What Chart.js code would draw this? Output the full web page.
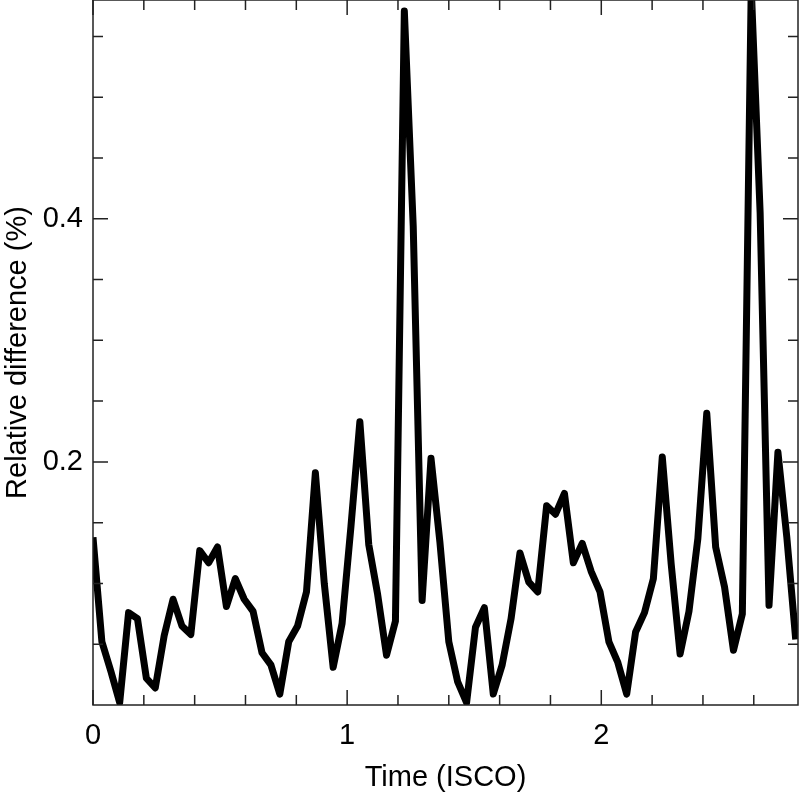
<!DOCTYPE html>
<html>
<head>
<meta charset="utf-8">
<script src="https://cdn.jsdelivr.net/npm/chart.js@4.4.1/dist/chart.umd.min.js"></script>
<style>
  html, body { margin: 0; padding: 0; background: #fff; }
  canvas { display: block; }
</style>
</head>
<body>
<canvas id="chart" width="799" height="795"></canvas>
<script>
// sample times (ISCO)
const timeIsco = [
    0.000, 0.035, 0.070, 0.105, 0.140, 0.175, 0.210, 0.245, 0.280, 0.315,
    0.350, 0.385, 0.420, 0.455, 0.490, 0.525, 0.560, 0.595, 0.630, 0.665,
    0.700, 0.735, 0.770, 0.805, 0.840, 0.875, 0.910, 0.945, 0.980, 1.015,
    1.050, 1.085, 1.120, 1.155, 1.190, 1.225, 1.260, 1.295, 1.330, 1.365,
    1.400, 1.435, 1.470, 1.505, 1.540, 1.575, 1.610, 1.645, 1.680, 1.715,
    1.750, 1.785, 1.820, 1.855, 1.890, 1.925, 1.960, 1.995, 2.030, 2.065,
    2.100, 2.135, 2.170, 2.205, 2.240, 2.275, 2.310, 2.345, 2.380, 2.415,
    2.450, 2.485, 2.520, 2.555, 2.590, 2.625, 2.660, 2.695, 2.730, 2.765
];

// relative difference (%)
const relDiff = [
    0.138, 0.052, 0.028, 0.002, 0.076, 0.071, 0.022, 0.014, 0.057, 0.087,
    0.065, 0.058, 0.127, 0.117, 0.130, 0.081, 0.104, 0.087, 0.077, 0.043,
    0.033, 0.009, 0.052, 0.065, 0.093, 0.191, 0.100, 0.031, 0.067, 0.147,
    0.233, 0.132, 0.091, 0.041, 0.069, 0.571, 0.394, 0.086, 0.203, 0.134,
    0.052, 0.019, 0.002, 0.064, 0.080, 0.009, 0.033, 0.071, 0.125, 0.101,
    0.093, 0.164, 0.157, 0.174, 0.117, 0.133, 0.110, 0.093, 0.052, 0.035,
    0.009, 0.060, 0.076, 0.104, 0.204, 0.116, 0.042, 0.077, 0.137, 0.240,
    0.130, 0.097, 0.045, 0.075, 0.590, 0.405, 0.082, 0.208, 0.138, 0.054
];

const xMajorTicks = [0, 1, 2];
const xMinorTicks = [0.2, 0.4, 0.6, 0.8, 1.2, 1.4, 1.6, 1.8, 2.2, 2.4, 2.6];
const yMajorTicks = [0.2, 0.4];
const yMinorTicks = [0.05, 0.1, 0.15, 0.25, 0.3, 0.35, 0.45, 0.5, 0.55];

const font = { family: '"Liberation Sans", Arial, Helvetica, sans-serif', size: 29 };

// box round the plot, with ticks pointing inwards on all four sides
const frameTicks = {
    id: 'frameTicks',
    afterDraw(chart) {
        const { ctx, chartArea: a, scales: { x, y } } = chart;
        ctx.save();
        ctx.strokeStyle = '#222';
        ctx.lineWidth = 1.5;
        ctx.strokeRect(a.left, a.top, a.right - a.left, a.bottom - a.top);
        ctx.beginPath();
        const xTicks = (vals, len) => vals.forEach(v => {
            const px = x.getPixelForValue(v);
            ctx.moveTo(px, a.bottom); ctx.lineTo(px, a.bottom - len);
            ctx.moveTo(px, a.top); ctx.lineTo(px, a.top + len);
        });
        const yTicks = (vals, len) => vals.forEach(v => {
            const py = y.getPixelForValue(v);
            ctx.moveTo(a.left, py); ctx.lineTo(a.left + len, py);
            ctx.moveTo(a.right, py); ctx.lineTo(a.right - len, py);
        });
        xTicks(xMajorTicks, 15);
        xTicks(xMinorTicks, 10);
        yTicks(yMajorTicks, 15);
        yTicks(yMinorTicks, 10);
        ctx.stroke();
        ctx.restore();
    }
};

new Chart(document.getElementById('chart'), {
    type: 'line',
    data: {
        datasets: [{
            data: timeIsco.map((t, i) => ({ x: t, y: relDiff[i] })),
            borderColor: '#000',
            borderWidth: 7,
            borderJoinStyle: 'round',
            pointRadius: 0,
            tension: 0,
            fill: false,
            clip: 0
        }]
    },
    options: {
        responsive: false,
        animation: false,
        layout: { padding: { top: 0, right: 1, bottom: 0, left: 0 } },
        plugins: { legend: { display: false }, tooltip: { enabled: false } },
        scales: {
            x: {
                type: 'linear',
                min: 0,
                max: 2.774,
                grid: { display: false, drawTicks: false },
                border: { display: false },
                afterBuildTicks: s => { s.ticks = xMajorTicks.map(v => ({ value: v })); },
                afterFit: s => { s.height = 90; s.paddingLeft = 0; s.paddingRight = 0; },
                ticks: { font, color: '#000', padding: 14, maxRotation: 0, autoSkip: false, callback: v => String(v) },
                title: { display: true, text: 'Time (ISCO)', font, color: '#000', padding: { top: 0, bottom: 0 } }
            },
            y: {
                type: 'linear',
                min: 0,
                max: 0.58,
                grid: { display: false, drawTicks: false },
                border: { display: false },
                afterBuildTicks: s => { s.ticks = yMajorTicks.map(v => ({ value: v })); },
                afterFit: s => { s.width = 93; s.paddingTop = 0; s.paddingBottom = 0; },
                ticks: { font, color: '#000', padding: 10, autoSkip: false, callback: v => v.toFixed(1) },
                title: { display: true, text: 'Relative difference (%)', font, color: '#000', padding: { top: 1, bottom: 0 } }
            }
        }
    },
    plugins: [frameTicks]
});
</script>
</body>
</html>
